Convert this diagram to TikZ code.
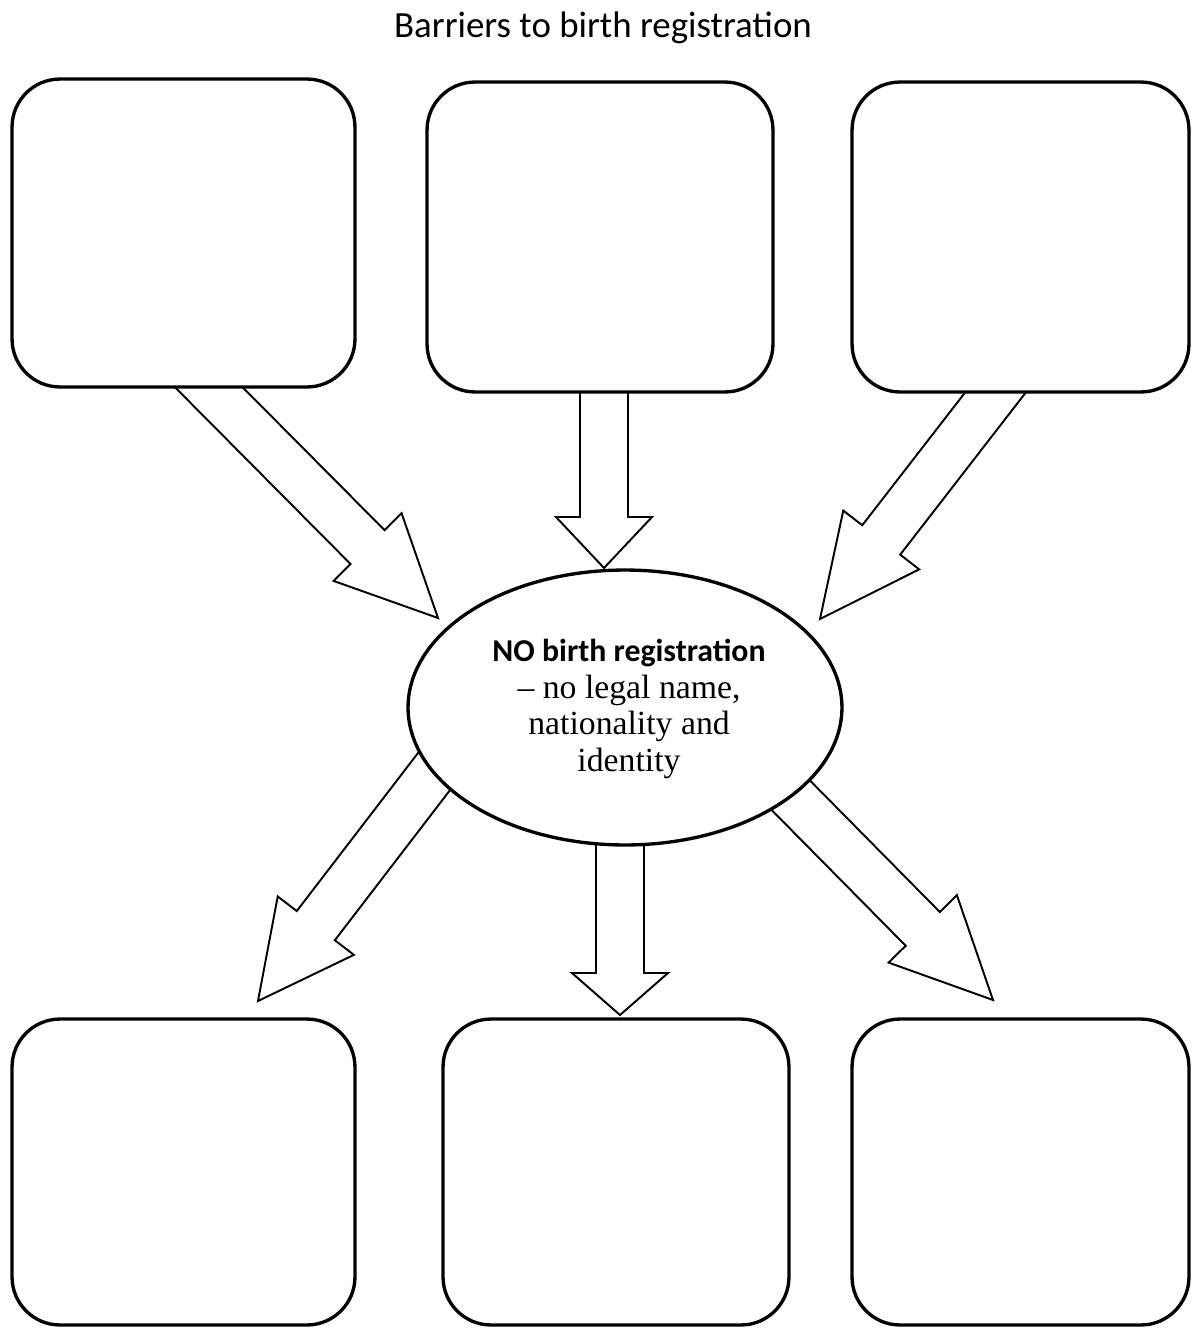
\documentclass[tikz,border=0pt]{standalone}
\usepackage{fontspec}
\setmainfont{Liberation Serif}
\newfontfamily\calibri{Carlito}
\usetikzlibrary{calc,shapes.geometric}
\tikzset{
  box/.style={draw, line width=1.9pt, rounded corners=0.96cm, fill=white, inner sep=0pt, outer sep=0pt},
  oval/.style={draw, ellipse, line width=1.9pt, fill=white, inner sep=0pt, outer sep=0pt,
    minimum width=8.68cm, minimum height=5.5cm},
  arrline/.style={draw, line width=1.1pt, fill=white, line join=miter}
}
\newcommand{\blockarr}[3]{%
  \coordinate (#1-#2-b) at ($(#2)!#3!(#1)$);
  \draw[arrline] ($(#1)!0.48cm!90:(#2)$) -- ($(#1-#2-b)!0.48cm!90:(#2)$)
    -- ($(#1-#2-b)!0.96cm!90:(#2)$) -- (#2)
    -- ($(#1-#2-b)!0.96cm!-90:(#2)$) -- ($(#1-#2-b)!0.48cm!-90:(#2)$)
    -- ($(#1)!0.48cm!-90:(#2)$) -- cycle;}
\begin{document}
\begin{tikzpicture}[x=0.02cm,y=-0.02cm]
\useasboundingbox (0,0) rectangle (1191,1329);
% title
\node[font=\calibri\fontsize{21}{25}\selectfont, anchor=base] (title) at (603,37) {Barriers to birth registration};
% tails and tips of block arrows
\coordinate (t1) at (188.4,366.7);  \coordinate (p1) at (438,618);
\coordinate (t2) at (604,362);      \coordinate (p2) at (604,568);
\coordinate (t3) at (1013.4,369.3); \coordinate (p3) at (820,619);
\coordinate (t4) at (452.3,747.7);  \coordinate (p4) at (258,1001);
\coordinate (t5) at (620,815);      \coordinate (p5) at (620,1015);
\coordinate (t6) at (770.4,774.6);  \coordinate (p6) at (993,1000);
\blockarr{t1}{p1}{2cm}
\blockarr{t2}{p2}{1.02cm}
\blockarr{t3}{p3}{2cm}
\blockarr{t4}{p4}{1.9cm}
\blockarr{t5}{p5}{0.84cm}
\blockarr{t6}{p6}{2cm}
% boxes
\node[box, minimum width=6.86cm, minimum height=6.16cm] (tl) at (183.5,233) {};
\node[box, minimum width=6.92cm, minimum height=6.2cm] (tm) at (600,237) {};
\node[box, minimum width=6.74cm, minimum height=6.2cm] (tr) at (1020.5,237) {};
\node[box, minimum width=6.86cm, minimum height=6.12cm] (bl) at (183.5,1172) {};
\node[box, minimum width=6.92cm, minimum height=6.12cm] (bm) at (616,1172) {};
\node[box, minimum width=6.74cm, minimum height=6.12cm] (br) at (1020.5,1172) {};
% centre
\node[oval] (centre) at (625,707.5) {};
\node[align=center, inner sep=0pt, font=\fontsize{19.2}{21}\selectfont] (centretext) at (629,709)
  {{\calibri\fontsize{18.1}{21}\selectfont\bfseries NO birth registration}\\– no legal name,\\nationality and\\identity};
\end{tikzpicture}
\end{document}
